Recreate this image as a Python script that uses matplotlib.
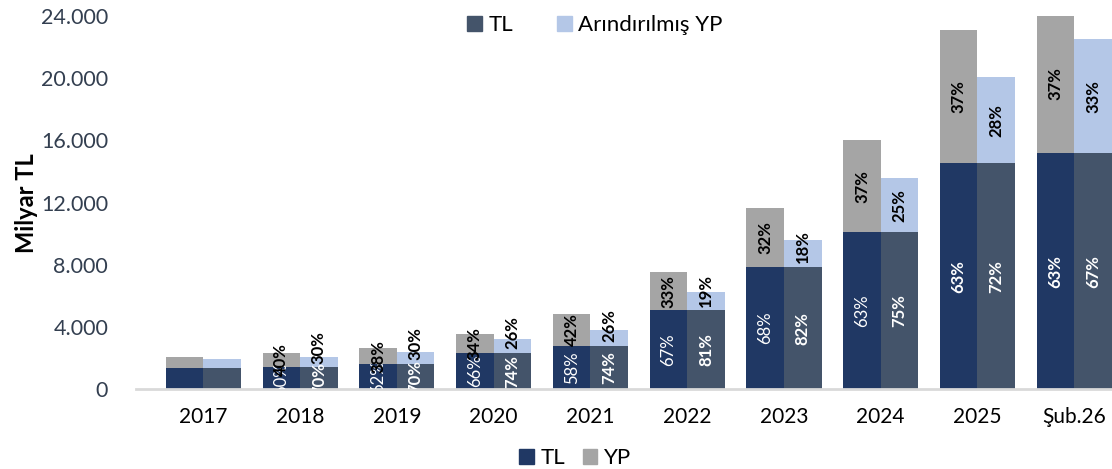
import matplotlib
matplotlib.use("Agg")
import matplotlib.pyplot as plt
import numpy as np
from matplotlib.patches import Patch
from matplotlib.ticker import FuncFormatter

plt.rcParams['font.family'] = ['Lato', 'DejaVu Sans']

# Data (Milyar TL)
categories = ['2017', '2018', '2019', '2020', '2021', '2022', '2023', '2024', '2025', 'Şub.26']
tl = [1400, 1420, 1620, 2330, 2810, 5070, 7870, 10120, 14520, 15170]
yp_total = [2060, 2360, 2640, 3560, 4870, 7530, 11650, 16000, 23100, 24100]
ayp_total = [1970, 2080, 2380, 3220, 3800, 6260, 9590, 13560, 20080, 22520]

tl_share_left = ['', '60%', '62%', '66%', '58%', '67%', '68%', '63%', '63%', '63%']
yp_share = ['', '40%', '38%', '34%', '42%', '33%', '32%', '37%', '37%', '37%']
tl_share_right = ['', '70%', '70%', '74%', '74%', '81%', '82%', '75%', '72%', '67%']
ayp_share = ['', '30%', '30%', '26%', '26%', '19%', '18%', '25%', '28%', '33%']

yp = [t - a for t, a in zip(yp_total, tl)]
ayp = [t - a for t, a in zip(ayp_total, tl)]

navy = '#203864'
slate = '#44546A'
gray = '#A5A5A5'
lblue = '#B4C7E7'

W, H = 1112, 469
fig = plt.figure(figsize=(W / 100, H / 100), dpi=100)
ax_left, ax_right = 136 / W, 1112 / W
ax_bottom, ax_top = 1 - 389.3 / H, 1 - 16 / H
ax = fig.add_axes([ax_left, ax_bottom, ax_right - ax_left, ax_top - ax_bottom])

x = np.arange(len(categories))
w = 0.388
xl = x - w / 2
xr = x + w / 2

ax.bar(xl, tl, w, color=navy, linewidth=0)
ax.bar(xl, yp, w, bottom=tl, color=gray, linewidth=0)
ax.bar(xr, tl, w, color=slate, linewidth=0)
ax.bar(xr, ayp, w, bottom=tl, color=lblue, linewidth=0)

lab_fs = 12
shift = 1290
for i in range(len(categories)):
    if tl_share_left[i]:
        ax.text(xl[i], tl[i] / 2, tl_share_left[i], rotation=90, ha='center', va='center',
                color='white', fontsize=lab_fs, fontweight='bold' if i >= 8 else 'normal', clip_on=True)
    if yp_share[i]:
        ax.text(xl[i], tl[i] + yp[i] / 2, yp_share[i], rotation=90, ha='center', va='center',
                color='black', fontsize=lab_fs, fontweight='bold', clip_on=True)
    if tl_share_right[i]:
        ax.text(xr[i], tl[i] / 2, tl_share_right[i], rotation=90, ha='center', va='center',
                color='white', fontsize=lab_fs, fontweight='bold', clip_on=True)
    if ayp_share[i]:
        yc = max(tl[i] + ayp[i] / 2, tl[i] + shift)
        ax.text(xr[i], yc, ayp_share[i], rotation=90, ha='center', va='center',
                color='black', fontsize=lab_fs, fontweight='bold', clip_on=True)

ax.set_xlim(-0.696, 9.39)
ax.set_ylim(0, 24000)
ax.set_yticks(np.arange(0, 24001, 4000))
ax.yaxis.set_major_formatter(FuncFormatter(lambda v, p: f"{int(v):,}".replace(',', '.')))
ax.set_xticks(x)
ax.set_xticklabels(categories)

for s in ['top', 'right', 'left']:
    ax.spines[s].set_visible(False)
ax.spines['bottom'].set_color('#D9D9D9')
ax.spines['bottom'].set_linewidth(2)

ax.tick_params(axis='y', length=0, pad=20, labelsize=15.5, labelcolor='#333F50')
ax.tick_params(axis='x', length=0, pad=13, labelsize=15, labelcolor='black')

ax.set_ylabel('Milyar TL', fontsize=17, fontweight='bold')
ax.yaxis.set_label_coords((38 / W - ax_left) / (ax_right - ax_left), 0.5)

leg1 = fig.legend(handles=[Patch(color=slate, label='TL'), Patch(color=lblue, label='Arındırılmış YP')],
                  loc='center', bbox_to_anchor=(595 / W, 1 - 25 / H), ncol=2, frameon=False,
                  fontsize=16, handlelength=0.65, handleheight=0.65, handletextpad=0.3, columnspacing=2.0)
leg2 = fig.legend(handles=[Patch(color=navy, label='TL'), Patch(color=gray, label='YP')],
                  loc='center', bbox_to_anchor=(575 / W, 1 - 458 / H), ncol=2, frameon=False,
                  fontsize=16, handlelength=0.65, handleheight=0.65, handletextpad=0.3, columnspacing=0.8)

fig.savefig('out.png', dpi=100)
